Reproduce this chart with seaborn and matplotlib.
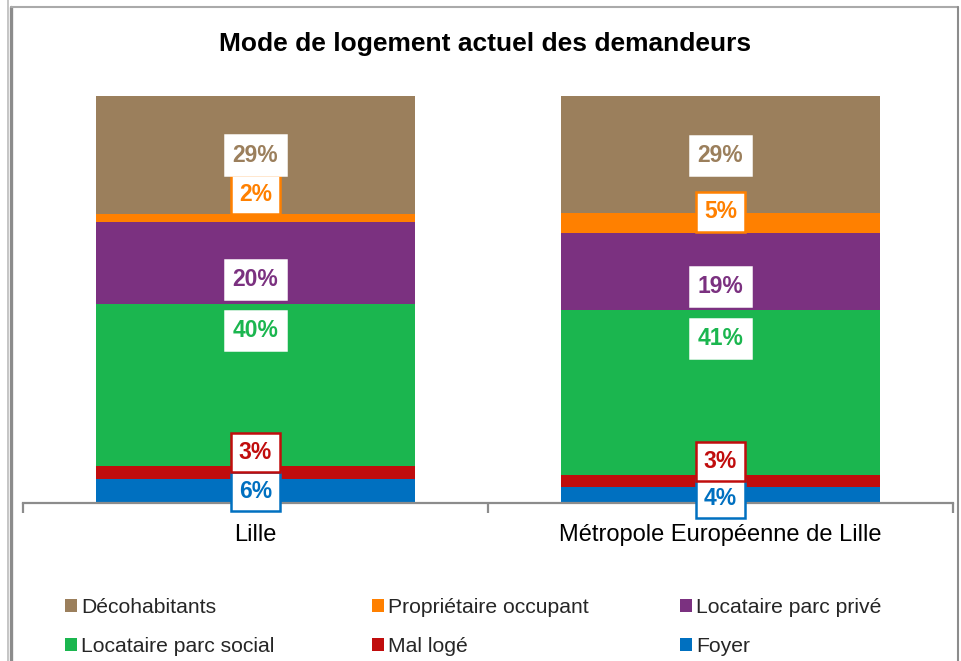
import matplotlib
matplotlib.use("Agg")
import matplotlib.pyplot as plt
from matplotlib.patches import Patch
from matplotlib.lines import Line2D
import seaborn as sns
import pandas as pd
import numpy as np

sns.set_theme(style="white")
plt.rcParams['font.family'] = ['Liberation Sans', 'DejaVu Sans']

categories = ["Lille", "Métropole Européenne de Lille"]
series = ["Foyer", "Mal logé", "Locataire parc social", "Locataire parc privé",
          "Propriétaire occupant", "Décohabitants"]
foyer = [6, 4]
mal_loge = [3, 3]
parc_social = [40, 41]
parc_prive = [20, 19]
proprietaire = [2, 5]
decohabitants = [29, 29]
colors = ["#0070C0", "#C00D0D", "#1BB64F", "#7B3180", "#FF8000", "#9B7F5C"]
# label vertical positions (% of bar height), as placed in the original
label_y_lille = [2.9, 12.3, 42.5, 55.0, 75.9, 85.5]
label_y_mel = [1.2, 10.1, 40.5, 53.1, 71.5, 85.3]
label_border = [True, True, False, False, True, False]

values = np.array([foyer, mal_loge, parc_social, parc_prive, proprietaire, decohabitants], dtype=float)
shares = values / values.sum(axis=0) * 100
cum = np.cumsum(shares, axis=0)

fig = plt.figure(figsize=(9.61, 6.61), dpi=100)
ax = fig.add_axes([23/961, 1-503/661, 930/961, 407/661])

for i in range(len(series) - 1, -1, -1):
    df = pd.DataFrame({"cat": categories, "val": cum[i]})
    sns.barplot(data=df, x="cat", y="val", color=colors[i], saturation=1,
                width=0.688, ax=ax, linewidth=0, order=categories)

ax.set_xlim(-0.5, 1.5)
ax.set_ylim(0, 100)
ax.set_xlabel("")
ax.set_ylabel("")
ax.set_yticks([])
for s in ["top", "right", "left"]:
    ax.spines[s].set_visible(False)
ax.spines["bottom"].set_color("#8C8C8C")
ax.spines["bottom"].set_linewidth(1.6)
ax.set_xticks([0, 1])
ax.set_xticklabels(categories, fontsize=17, color="black")
ax.tick_params(axis="x", which="major", length=0, pad=15)
ax.set_xticks([-0.5, 0.5, 1.5], minor=True)
ax.tick_params(axis="x", which="minor", length=7, width=1.6, color="#8C8C8C", direction="out", bottom=True)

for xi, ys in enumerate([label_y_lille, label_y_mel]):
    for i in range(len(series)):
        txt = f"{int(round(values[i, xi]))}%"
        ec = colors[i] if label_border[i] else "white"
        ax.text(xi, ys[i], txt, ha="center", va="center", fontsize=16.5, fontweight="bold",
                color=colors[i],
                bbox=dict(boxstyle="square,pad=0.35", fc="white", ec=ec, lw=1.8))

fig.text(485/961, 1-44/661, "Mode de logement actuel des demandeurs", ha="center", va="center",
         fontsize=19, fontweight="bold", color="black")

# legend in three columns, two rows
cols = [[5, 2], [4, 1], [3, 0]]
xs = [65/961, 372/961, 680/961]
for c, idxs in enumerate(cols):
    handles = [Patch(facecolor=colors[k], edgecolor="none") for k in idxs]
    labels = [series[k] for k in idxs]
    fig.legend(handles, labels, loc="upper left", bbox_to_anchor=(xs[c], 1-598/661),
               frameon=False, fontsize=15.2, handlelength=0.58, handleheight=0.62,
               handletextpad=0.2, labelspacing=0.95, borderpad=0, borderaxespad=0)

# outer frame
fig.add_artist(Line2D([8/961, 8/961], [0, 1], transform=fig.transFigure, color="#BBBBBB", lw=1.2))
fig.add_artist(Line2D([11/961, 11/961], [0, 1-7/661], transform=fig.transFigure, color="#8C8C8C", lw=2.4))
fig.add_artist(Line2D([11/961, 958/961], [1-7/661, 1-7/661], transform=fig.transFigure, color="#AAAAAA", lw=1.5))
fig.add_artist(Line2D([958/961, 958/961], [0, 1-7/661], transform=fig.transFigure, color="#8C8C8C", lw=1.5))

fig.savefig("out.png", dpi=100, facecolor="white")
